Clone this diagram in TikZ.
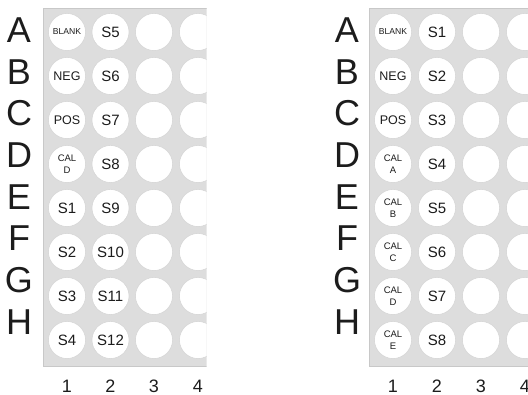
\documentclass[tikz,border=0pt]{standalone}
\usepackage{fontspec}
\setmainfont{Liberation Sans}
\definecolor{plategray}{RGB}{221,221,221}
\definecolor{plateedge}{RGB}{200,200,200}
\definecolor{welledge}{RGB}{208,208,208}
\definecolor{inktext}{RGB}{28,28,28}
\begin{document}
\begin{tikzpicture}[x=1pt,y=-1pt,
  plate/.style={fill=plategray,draw=plateedge,line width=0.7pt},
  well/.style={circle,fill=white,draw=welledge,line width=0.4pt,
    minimum size=37pt,inner sep=0pt,align=center,text=inktext},
  lblbig/.style={font=\fontsize{15}{15}\selectfont},
  lblmid/.style={font=\fontsize{12.5}{12.5}\selectfont},
  lblsmall/.style={font=\fontsize{8.6}{9}\selectfont},
  lblcal/.style={font=\fontsize{9.5}{12}\selectfont},
  rowlbl/.style={inner sep=0pt,text=inktext,font=\fontsize{36}{36}\selectfont},
  collbl/.style={inner sep=0pt,text=inktext,font=\fontsize{18}{18}\selectfont}]
  \useasboundingbox (0,0) rectangle (528,395);
  % left plate
  \begin{scope}
    \clip (42.5,7.5) rectangle (206.5,367);
    \draw[plate] (43,8) rectangle (240,366);
    \foreach \r/\st/\lbl in {1/lblsmall/BLANK,2/lblmid/NEG,3/lblmid/POS,
        4/lblcal/{CAL\\D},5/lblbig/S1,6/lblbig/S2,7/lblbig/S3,8/lblbig/S4}{
      \pgfmathsetmacro{\yw}{32+44*(\r-1)}
      \node[well,\st] (wl-\r-1) at (67,\yw) {\lbl};
      \pgfmathtruncatemacro{\sn}{\r+4}
      \node[well,lblbig] (wl-\r-2) at (110.5,\yw) {S\sn};
      \node[well] (wl-\r-3) at (154,\yw) {};
      \node[well] (wl-\r-4) at (198,\yw) {};
    }
  \end{scope}
  % right plate
  \begin{scope}
    \clip (368.5,7.5) rectangle (528,367);
    \draw[plate] (369,8) rectangle (560,366);
    \foreach \r/\st/\lbl in {1/lblsmall/BLANK,2/lblmid/NEG,3/lblmid/POS,
        4/lblcal/{CAL\\A},5/lblcal/{CAL\\B},6/lblcal/{CAL\\C},
        7/lblcal/{CAL\\D},8/lblcal/{CAL\\E}}{
      \pgfmathsetmacro{\yw}{32+44*(\r-1)}
      \node[well,\st] (wr-\r-1) at (393,\yw) {\lbl};
      \node[well,lblbig] (wr-\r-2) at (437,\yw) {S\r};
      \node[well] (wr-\r-3) at (481,\yw) {};
      \node[well] (wr-\r-4) at (525,\yw) {};
    }
  \end{scope}
  % row letters
  \foreach \lt [count=\i] in {A,B,C,D,E,F,G,H}{
    \pgfmathsetmacro{\yl}{30+41.7*(\i-1)}
    \node[rowlbl] (rl-\lt) at (19,\yl) {\lt};
    \node[rowlbl] (rr-\lt) at (347,\yl) {\lt};
  }
  % column numbers
  \foreach \c/\xl/\xr in {1/67/393,2/110.5/437,3/154/481,4/198/525}{
    \node[collbl] (cl-\c) at (\xl,386) {\c};
    \node[collbl] (cr-\c) at (\xr,386) {\c};
  }
\end{tikzpicture}
\end{document}
